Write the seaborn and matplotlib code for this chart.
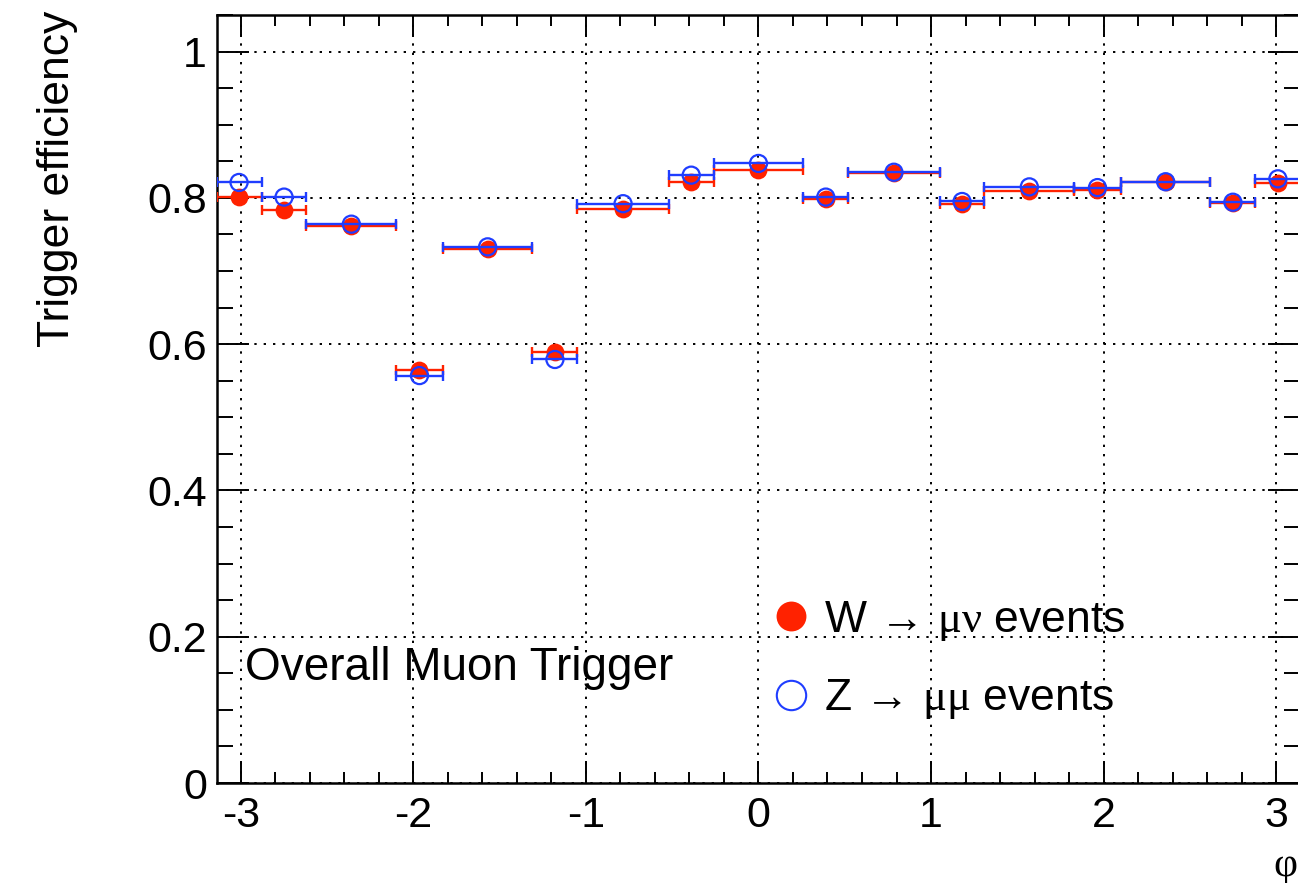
import numpy as np
import pandas as pd
import matplotlib
matplotlib.use("Agg")
import matplotlib.pyplot as plt
from matplotlib.lines import Line2D
from matplotlib.ticker import MultipleLocator, FixedLocator
import seaborn as sns

# ---- data ----
bin_edges = [-3.1416, -2.88, -2.62, -2.10, -1.83, -1.31, -1.05, -0.52, -0.26,
             0.26, 0.52, 1.05, 1.31, 1.83, 2.10, 2.62, 2.88, 3.1416]
w_eff = [0.801, 0.783, 0.762, 0.564, 0.730, 0.589, 0.785, 0.821, 0.838,
         0.799, 0.834, 0.791, 0.809, 0.811, 0.821, 0.793, 0.820]
z_eff = [0.821, 0.801, 0.764, 0.557, 0.733, 0.579, 0.792, 0.831, 0.847,
         0.801, 0.835, 0.795, 0.815, 0.814, 0.822, 0.794, 0.826]
y_ticks = [0, 0.2, 0.4, 0.6, 0.8, 1.0]
y_tick_labels = ["0", "0.2", "0.4", "0.6", "0.8", "1"]
x_ticks = [-3, -2, -1, 0, 1, 2, 3]
x_tick_labels = ["-3", "-2", "-1", "0", "1", "2", "3"]
w_label = r"W $\!\rightarrow\!$ $\mathrm{\mu\nu}$ events"
z_label = r"Z $\!\rightarrow\!$ $\mathrm{\mu\mu}$ events"
annotation = "Overall Muon Trigger"

edges = np.array(bin_edges)
centers = (edges[:-1] + edges[1:]) / 2
half = (edges[1:] - edges[:-1]) / 2
df = pd.DataFrame({"phi": np.concatenate([centers, centers]),
                   "eff": np.concatenate([w_eff, z_eff]),
                   "sample": ["W"] * len(w_eff) + ["Z"] * len(z_eff)})

sns.set_theme(style="white")
plt.rcParams["font.family"] = ["Liberation Sans", "DejaVu Sans"]
plt.rcParams["mathtext.fontset"] = "custom"
plt.rcParams["mathtext.rm"] = "Liberation Serif"
plt.rcParams["mathtext.it"] = "Liberation Serif:italic"
plt.rcParams["axes.unicode_minus"] = False
plt.rcParams["text.color"] = "black"
plt.rcParams["axes.labelcolor"] = "black"
plt.rcParams["xtick.color"] = "black"
plt.rcParams["ytick.color"] = "black"

RED = "#ff2200"
BLUE = "#1f3dff"

fig = plt.figure(figsize=(12.98, 8.83), dpi=100)
ax = fig.add_axes([0.1668, 0.11325, 0.8351, 0.8698])

ax.set_xlim(-np.pi, np.pi)
ax.set_ylim(0, 1.05)

# ticks / grid
ax.xaxis.set_major_locator(FixedLocator(x_ticks))
ax.xaxis.set_minor_locator(MultipleLocator(0.2))
ax.yaxis.set_major_locator(FixedLocator(y_ticks))
ax.yaxis.set_minor_locator(MultipleLocator(0.05))
ax.set_xticklabels(x_tick_labels)
ax.set_yticklabels(y_tick_labels)
ax.grid(True, which="major", color="black", linestyle=(0, (1.2, 3.6)), linewidth=1.4)
ax.set_axisbelow(True)

wdf = df[df["sample"] == "W"]
zdf = df[df["sample"] == "Z"]

# W: red filled
ax.errorbar(wdf["phi"], wdf["eff"], xerr=half, fmt="none", ecolor=RED,
            elinewidth=1.7, capsize=3.6, capthick=1.7, zorder=3)
sns.scatterplot(data=wdf, x="phi", y="eff", ax=ax, color=RED, s=12.8**2,
                linewidth=0, marker="o", zorder=4, legend=False)
# Z: blue open
ax.errorbar(zdf["phi"], zdf["eff"], xerr=half, fmt="none", ecolor=BLUE,
            elinewidth=1.7, capsize=3.6, capthick=1.7, zorder=5)
sns.scatterplot(data=zdf, x="phi", y="eff", ax=ax, facecolor="none",
                edgecolor=BLUE, s=12.3**2, linewidth=1.6, marker="o",
                zorder=6, legend=False)

ax.tick_params(which="both", direction="in", top=True, right=True,
               bottom=True, left=True, color="black", labelcolor="black")
ax.tick_params(axis="x", which="major", length=16, width=1.4, labelsize=31, pad=9)
ax.tick_params(axis="x", which="minor", length=8, width=1.4)
ax.tick_params(axis="y", which="major", length=23, width=1.4, labelsize=31, pad=7)
ax.tick_params(axis="y", which="minor", length=11.5, width=1.4)
for s in ax.spines.values():
    s.set_linewidth(1.8)
    s.set_color("black")

ax.set_xlabel("φ", fontsize=30, loc="right", family=["Liberation Serif", "DejaVu Serif"])
ax.xaxis.set_label_coords(0.9975, -0.083)
ax.set_ylabel("Trigger efficiency", fontsize=32, loc="top")
ax.yaxis.set_label_coords(-0.128, 1.006)

ax.text(0.026, 0.134, annotation, transform=ax.transAxes, fontsize=33,
        ha="left", va="baseline", color="black")

handles = [Line2D([], [], linestyle="none", marker="o", color=RED,
                  markerfacecolor=RED, markeredgewidth=0, markersize=12.5),
           Line2D([], [], linestyle="none", marker="o", color=BLUE,
                  markerfacecolor="none", markeredgecolor=BLUE,
                  markeredgewidth=1.5, markersize=12.3)]
ax.legend(handles, [w_label, z_label], loc="upper left",
          bbox_to_anchor=(0.5135, 0.240), frameon=False, fontsize=32,
          markerscale=1.72, handlelength=0.8, handletextpad=0.35,
          labelspacing=0.78, borderpad=0, borderaxespad=0)

fig.savefig("out.png", dpi=100)
